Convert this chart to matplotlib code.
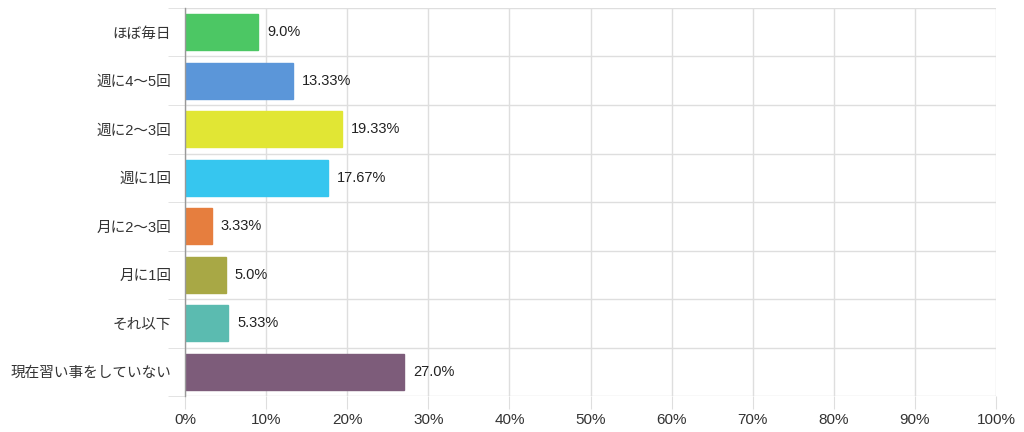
import matplotlib
matplotlib.use("Agg")
import matplotlib.pyplot as plt
from matplotlib.ticker import FuncFormatter

plt.rcParams['font.family'] = ['Liberation Sans', 'Noto Sans CJK JP']

categories = ['ほぼ毎日', '週に4〜5回', '週に2〜3回', '週に1回',
              '月に2〜3回', '月に1回', 'それ以下', '現在習い事をしていない']
values = [9.0, 13.33, 19.33, 17.67, 3.33, 5.0, 5.33, 27.0]
value_labels = ['9.0%', '13.33%', '19.33%', '17.67%', '3.33%', '5.0%', '5.33%', '27.0%']
colors = ['#4cc764', '#5b96d9', '#e1e634', '#36c6ef',
          '#e67e3e', '#a8a845', '#5bbbb0', '#7d5c7a']
xticks = [0, 10, 20, 30, 40, 50, 60, 70, 80, 90, 100]

fig = plt.figure(figsize=(10.24, 4.32), dpi=100)
ax = fig.add_axes([0.1807, 0.0833, 0.7920, 0.8982])

n = len(categories)
ypos = list(range(n))
ax.barh(ypos, values, height=0.74, color=colors, edgecolor=colors,
        linewidth=1, zorder=3)

for y, v, lab in zip(ypos, values, value_labels):
    ax.text(v + 1.1, y, lab, va='center', ha='left', fontsize=10.5, color='#222222')

ax.set_xlim(0, 100)
ax.set_ylim(n - 0.5, -0.5)
ax.set_xticks(xticks)
ax.xaxis.set_major_formatter(FuncFormatter(lambda x, p: f'{x:.0f}%'))
ax.set_yticks(ypos)
ax.set_yticklabels(categories)

# category separators
ax.set_yticks([i - 0.5 for i in range(n + 1)], minor=True)
ax.grid(True, which='minor', axis='y', color='#dedede', linewidth=1, zorder=0)
ax.grid(True, which='major', axis='x', color='#dedede', linewidth=1, zorder=0)

ax.tick_params(axis='y', which='major', length=0, pad=10, labelsize=10.5, labelcolor='#333333')
ax.tick_params(axis='y', which='minor', length=12, color='#dedede')
ax.tick_params(axis='x', length=9, color='#dedede', labelsize=11, labelcolor='#333333', pad=3)

for s in ['top', 'right', 'bottom']:
    ax.spines[s].set_visible(False)
ax.spines['left'].set_color('#999999')
ax.spines['left'].set_linewidth(1)
ax.spines['left'].set_zorder(4)

fig.savefig('out.png', dpi=100)
